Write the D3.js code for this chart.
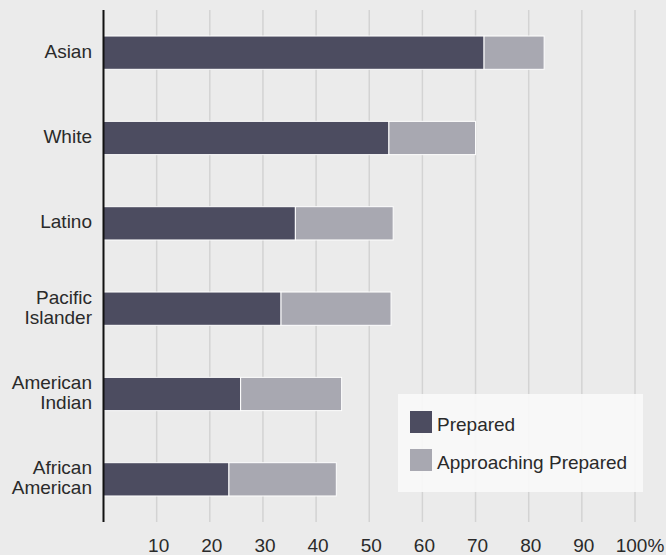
<!DOCTYPE html>
<html>
<head>
<meta charset="utf-8">
<script src="https://cdn.jsdelivr.net/npm/d3@7"></script>
<style>
  html, body { margin: 0; padding: 0; background: #ebebeb; }
  svg { display: block; font-family: "Liberation Sans", Arial, sans-serif; }
</style>
</head>
<body>
<svg id="chart"></svg>
<script>
// Данные графика
const groups = ["Asian", "White", "Latino", "Pacific Islander", "American Indian", "African American"];
const groupLines = [["Asian"], ["White"], ["Latino"], ["Pacific", "Islander"], ["American", "Indian"], ["African", "American"]];
const prepared = [71.6, 53.7, 36.1, 33.4, 25.8, 23.6];
const approaching = [11.3, 16.3, 18.4, 20.7, 19.0, 20.2];
const ticks = [10, 20, 30, 40, 50, 60, 70, 80, 90, 100];
const seriesNames = ["Prepared", "Approaching Prepared"];
const colors = ["#4c4c60", "#a8a8b1"];

const width = 666, height = 555;
const margin = { top: 10, right: 31, bottom: 33, left: 103.5 };
const fontSize = 19;

const svg = d3.select("#chart").attr("width", width).attr("height", height);

svg.append("rect").attr("width", width).attr("height", height).attr("fill", "#ebebeb");

const x = d3.scaleLinear().domain([0, 100]).range([margin.left, width - margin.right]);
const y = d3.scaleBand().domain(groups)
    .range([margin.top, height - margin.bottom])
    .paddingInner(0.61).paddingOuter(0.305);

// Сетка
svg.append("g")
    .selectAll("line")
    .data(ticks)
    .enter()
    .append("line")
    .attr("x1", d => x(d)).attr("x2", d => x(d))
    .attr("y1", margin.top).attr("y2", height - margin.bottom)
    .attr("stroke", "#d3d3d3")
    .attr("stroke-width", 1.5);

// Подписи оси X
svg.append("g")
    .selectAll("text")
    .data(ticks)
    .enter()
    .append("text")
    .attr("x", d => x(d) + (d === 100 ? 5 : 2))
    .attr("y", 551.5)
    .attr("text-anchor", "middle")
    .attr("font-size", fontSize)
    .attr("fill", "#2a2a2a")
    .text(d => d === 100 ? "100%" : d);

// Столбцы (стек)
const rows = groups.map((g, i) => ({ group: g, vals: [prepared[i], approaching[i]] }));
const barG = svg.append("g");
rows.forEach(r => {
    let start = 0;
    r.vals.forEach((v, k) => {
        barG.append("rect")
            .attr("x", x(start))
            .attr("y", y(r.group))
            .attr("width", x(start + v) - x(start))
            .attr("height", y.bandwidth())
            .attr("fill", colors[k])
            .attr("stroke", "#ffffff")
            .attr("stroke-width", 1);
        start += v;
    });
});

// Ось Y
svg.append("line")
    .attr("x1", x(0)).attr("x2", x(0))
    .attr("y1", margin.top).attr("y2", height - margin.bottom)
    .attr("stroke", "#111")
    .attr("stroke-width", 2);

// Подписи категорий
const labelG = svg.append("g");
groups.forEach((g, i) => {
    const lines = groupLines[i];
    const cy = y(g) + y.bandwidth() / 2;
    const lh = 20;
    const t = labelG.append("text")
        .attr("text-anchor", "end")
        .attr("font-size", fontSize)
        .attr("fill", "#2a2a2a");
    lines.forEach((ln, j) => {
        t.append("tspan")
            .attr("x", 92)
            .attr("y", cy + 5 + (j - (lines.length - 1) / 2) * lh)
            .text(ln);
    });
});

// Легенда
const legend = svg.append("g");
legend.append("rect")
    .attr("x", 398).attr("y", 394)
    .attr("width", 245).attr("height", 98)
    .attr("fill", "#f8f8f8")
    .attr("fill-opacity", 0.92);
seriesNames.forEach((name, i) => {
    legend.append("rect")
        .attr("x", 410).attr("y", 411 + i * 38)
        .attr("width", 22).attr("height", 22)
        .attr("fill", colors[i]);
    legend.append("text")
        .attr("x", 437).attr("y", 431 + i * 38)
        .attr("font-size", fontSize)
        .attr("fill", "#2a2a2a")
        .text(name);
});
</script>
</body>
</html>
